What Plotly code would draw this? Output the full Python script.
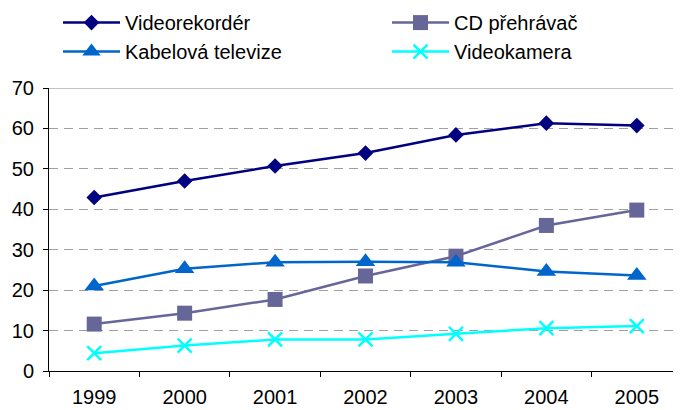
import plotly.graph_objects as go

years = ["1999", "2000", "2001", "2002", "2003", "2004", "2005"]
videorekorder = [42.9, 47.0, 50.7, 53.9, 58.4, 61.3, 60.7]
cd_prehravac = [11.6, 14.3, 17.7, 23.5, 28.4, 36.0, 39.8]
kabelova_tv = [21.0, 25.3, 26.9, 27.0, 26.9, 24.6, 23.6]
videokamera = [4.4, 6.3, 7.8, 7.8, 9.2, 10.6, 11.1]
y_ticks = [0, 10, 20, 30, 40, 50, 60, 70]

series = [
    ("Videorekordér", videorekorder, "#000080", dict(symbol="diamond", size=12), "legend"),
    ("CD přehrávač", cd_prehravac, "#666699", dict(symbol="square", size=15), "legend2"),
    ("Kabelová televize", kabelova_tv, "#0066CC", dict(symbol="triangle-up", size=17), "legend"),
    ("Videokamera", videokamera, "#00FFFF", dict(symbol="x-thin-open", size=14, line=dict(width=2.5)), "legend2"),
]

fig = go.Figure()
for name, vals, color, mk, lg in series:
    m = dict(color=color, **mk)
    if "line" in m:
        m["line"]["color"] = color
    fig.add_trace(go.Scatter(
        x=years, y=vals, name=name, mode="lines+markers",
        line=dict(color=color, width=2.5), marker=m,
        legend=lg, legendgroup=name,
    ))

fig.add_shape(type="line", xref="paper", yref="y", x0=0, x1=1, y0=70, y1=70,
              line=dict(color="#888888", width=1), layer="below")

FONT = "Arial, Liberation Sans, sans-serif"
leg_common = dict(
    orientation="v", yanchor="top", y=1.30, xanchor="left",
    font=dict(size=20, family=FONT), tracegroupgap=0, itemwidth=57,
    bgcolor="rgba(0,0,0,0)",
)

fig.update_layout(
    width=681, height=410,
    margin=dict(l=41, r=7, t=80, b=47, autoexpand=False),
    paper_bgcolor="white", plot_bgcolor="white",
    font=dict(family=FONT, size=20, color="black"),
    showlegend=True,
    legend=dict(x=0.0142, **leg_common),
    legend2=dict(x=0.534, **leg_common),
    xaxis=dict(
        type="category", range=[-0.5, 6.5],
        showgrid=False, showline=True, linecolor="black", linewidth=1,
        ticks="outside", ticklen=5, tickcolor="black", tickson="boundaries",
        tickfont=dict(size=20), ticklabelstandoff=8,
    ),
    yaxis=dict(
        range=[0, 70], tickvals=y_ticks, showline=True, linecolor="black", linewidth=1,
        ticks="outside", ticklen=5, tickcolor="black",
        showgrid=True, gridcolor="#a0a0a0", gridwidth=1, griddash="9px,6px",
        zeroline=False, tickfont=dict(size=20), ticklabelstandoff=5,
    ),
)

fig.write_html("out.html")
